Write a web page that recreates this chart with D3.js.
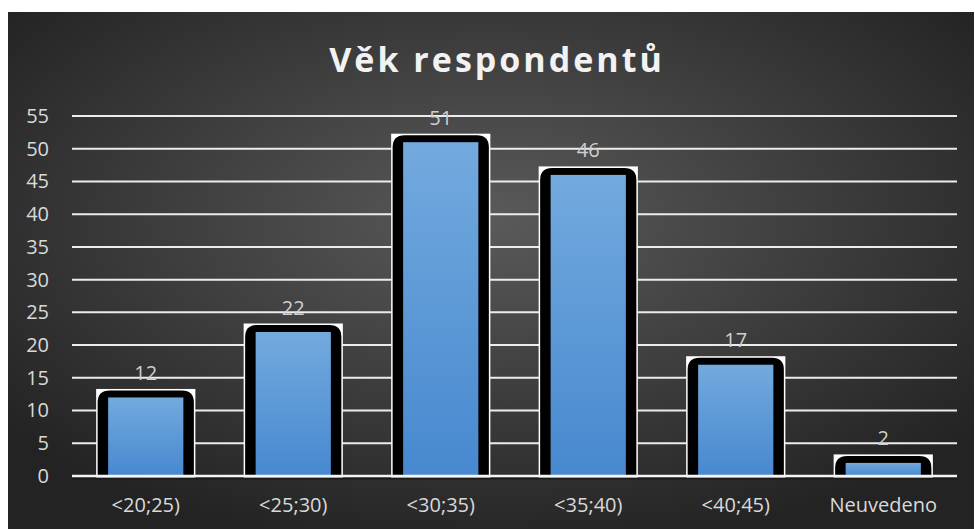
<!DOCTYPE html>
<html>
<head>
<meta charset="utf-8">
<script src="https://cdn.jsdelivr.net/npm/d3@7"></script>
<style>
  body { margin: 0; background: #fff; }
  svg text { font-family: "Open Sans", sans-serif; }
</style>
</head>
<body>
<div id="chart"></div>
<script>
// data
const categories = ["<20;25)", "<25;30)", "<30;35)", "<35;40)", "<40;45)", "Neuvedeno"];
const counts = [12, 22, 51, 46, 17, 2];
const yTicks = [0, 5, 10, 15, 20, 25, 30, 35, 40, 45, 50, 55];
const chartTitle = "Věk respondentů";

const width = 975, height = 529;
const svg = d3.select("#chart").append("svg")
  .attr("width", width)
  .attr("height", height);

const defs = svg.append("defs");

// dark radial background
const bg = defs.append("radialGradient")
  .attr("id", "bgGrad")
  .attr("cx", "50%").attr("cy", "40%").attr("r", "65%");
bg.append("stop").attr("offset", "0%").style("stop-color", "#5a5a5a");
bg.append("stop").attr("offset", "100%").style("stop-color", "#232323");

// blue bar gradient
const barGrad = defs.append("linearGradient")
  .attr("id", "barGrad")
  .attr("x1", 0).attr("y1", 0).attr("x2", 0).attr("y2", 1);
barGrad.append("stop").attr("offset", "0%").style("stop-color", "#73aade");
barGrad.append("stop").attr("offset", "100%").style("stop-color", "#4788cf");

svg.append("rect")
  .attr("x", 8).attr("y", 12)
  .attr("width", width - 9).attr("height", height - 12)
  .attr("fill", "url(#bgGrad)");

// title
svg.append("text")
  .text(chartTitle)
  .attr("x", 497)
  .attr("y", 72)
  .attr("text-anchor", "middle")
  .style("font-size", "34px")
  .style("font-weight", "bold")
  .style("letter-spacing", "3px")
  .attr("fill", "#f2f2f2");

// scales
const x = d3.scaleBand()
  .domain(categories)
  .range([72, 957])
  .paddingInner(0.49)
  .paddingOuter(0.245);

const y = d3.scaleLinear()
  .domain([0, 55])
  .range([476, 116]);

// gridlines
svg.append("g")
  .selectAll("line")
  .data(yTicks)
  .join("line")
  .attr("x1", 72)
  .attr("x2", 957)
  .attr("y1", d => y(d))
  .attr("y2", d => y(d))
  .attr("stroke", "#ececec")
  .attr("stroke-width", 2);

// y axis labels
const yAxis = svg.append("g")
  .attr("transform", "translate(72,0)")
  .call(d3.axisLeft(y).tickValues(yTicks).tickSize(0).tickPadding(23));
yAxis.select(".domain").remove();
yAxis.selectAll("text")
  .style("font-size", "20px")
  .style("font-family", "'Open Sans', sans-serif")
  .attr("fill", "#d9d9d9");

// bars
const bars = svg.append("g")
  .selectAll("g")
  .data(categories.map((c, i) => ({cat: c, value: counts[i]})))
  .join("g");

// white frame behind each bar
bars.append("rect")
  .attr("x", d => x(d.cat) - 12)
  .attr("y", d => y(d.value) - 8.5)
  .attr("width", x.bandwidth() + 24)
  .attr("height", d => y(0) - y(d.value) + 10.5)
  .attr("fill", "#ffffff");

// black border with rounded top corners
bars.append("path")
  .attr("d", d => {
    const x0 = x(d.cat) - 10.5, x1 = x(d.cat) + x.bandwidth() + 10.5;
    const top = y(d.value) - 7, bot = y(0);
    const r = Math.min(12, bot - top);
    return `M${x0},${bot} L${x0},${top + r} Q${x0},${top} ${x0 + r},${top} ` +
      `L${x1 - r},${top} Q${x1},${top} ${x1},${top + r} L${x1},${bot} Z`;
  })
  .attr("fill", "#000000");

bars.append("rect")
  .attr("x", d => x(d.cat))
  .attr("y", d => y(d.value))
  .attr("width", x.bandwidth())
  .attr("height", d => y(0) - y(d.value))
  .attr("fill", "url(#barGrad)");

// baseline with slight shadow
svg.append("line")
  .attr("x1", 72).attr("x2", 957)
  .attr("y1", y(0) + 2.5).attr("y2", y(0) + 2.5)
  .attr("stroke", "#1a1a1a")
  .attr("stroke-width", 2);
svg.append("line")
  .attr("x1", 72).attr("x2", 957)
  .attr("y1", y(0)).attr("y2", y(0))
  .attr("stroke", "#f4f4f4")
  .attr("stroke-width", 2.5);

// value labels
bars.append("text")
  .text(d => d.value)
  .attr("x", d => x(d.cat) + x.bandwidth() / 2)
  .attr("y", d => y(d.value) - 17.5)
  .attr("text-anchor", "middle")
  .style("font-size", "20px")
  .attr("fill", "#cfcfcf");

// x axis labels
const xAxis = svg.append("g")
  .attr("transform", `translate(0,${y(0)})`)
  .call(d3.axisBottom(x).tickSize(0).tickPadding(22));
xAxis.select(".domain").remove();
xAxis.selectAll("text")
  .style("font-size", "20px")
  .style("font-family", "'Open Sans', sans-serif")
  .attr("fill", "#d9d9d9");
</script>
</body>
</html>
